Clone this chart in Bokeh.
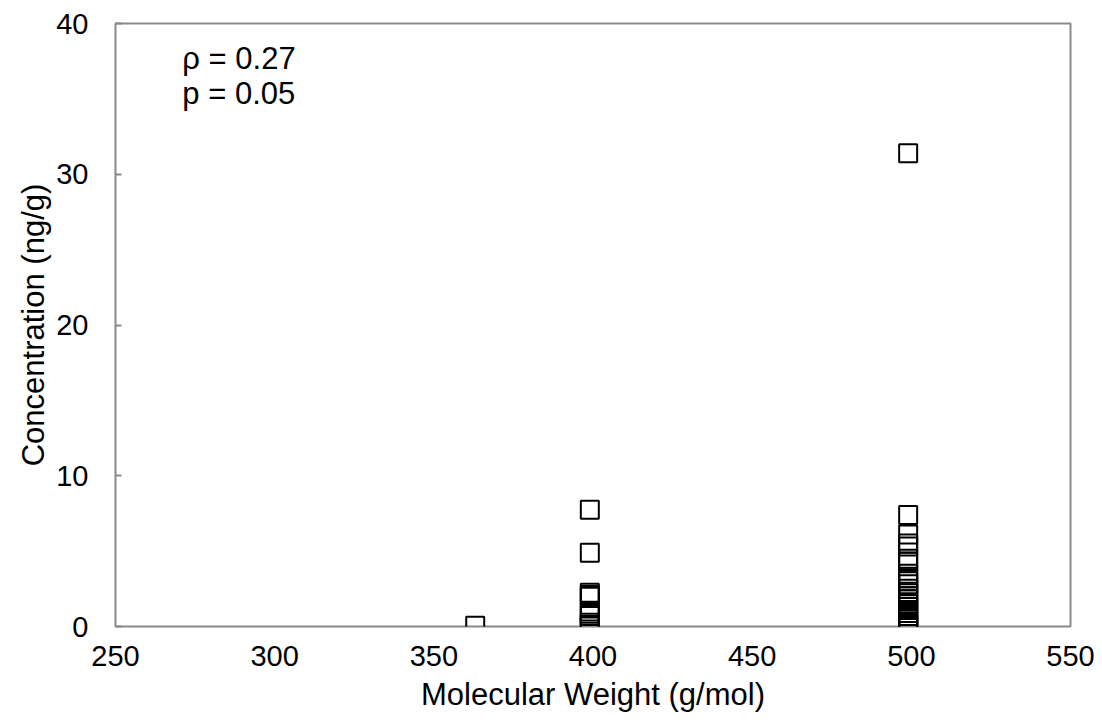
from bokeh.plotting import figure
from bokeh.models import FixedTicker, Label, Range1d
from bokeh.embed import file_html
from bokeh.resources import INLINE

# Data
mw_363 = [363]
conc_363 = [0.05]

mw_399 = [399] * 11
conc_399 = [7.75, 4.9, 2.24, 2.09, 1.97, 1.0, 0.85, 0.7, 0.25, 0.1, 0.0]

mw_499 = [499] * 26
conc_499 = [31.4, 7.4, 6.1, 5.5, 5.3, 4.5, 4.3, 3.5, 3.2, 3.0, 2.8, 2.5, 2.2,
            2.0, 1.8, 1.5, 1.3, 1.1, 0.9, 0.7, 0.5, 0.35, 0.2, 0.1, 0.05, 0.0]

x_ticks = [250, 300, 350, 400, 450, 500, 550]
y_ticks = [0, 10, 20, 30, 40]

annot_lines = ["\u03c1 = 0.27", "p = 0.05"]
annot_x = 271
annot_y = [37.65, 35.35]

FONT = "Liberation Sans"
FS_TICK = "29px"
FS_TITLE = "31px"

p = figure(width=1102, height=727, output_backend="svg", toolbar_location=None,
           x_range=Range1d(250, 550), y_range=Range1d(0, 40),
           min_border_left=115, min_border_right=32, min_border_top=23, min_border_bottom=101)

xs = mw_363 + mw_399 + mw_499
ys = conc_363 + conc_399 + conc_499
p.scatter(xs, ys, marker="square", size=18, fill_color=None, line_color="black", line_width=2)

p.xgrid.visible = False
p.ygrid.visible = False
p.outline_line_color = "#898989"
p.outline_line_width = 2

p.xaxis.ticker = FixedTicker(ticks=x_ticks)
p.yaxis.ticker = FixedTicker(ticks=y_ticks)
for ax in (p.xaxis, p.yaxis):
    ax.axis_line_color = None
    ax.minor_tick_line_color = None
    ax.major_label_text_font = FONT
    ax.major_label_text_font_size = FS_TICK
    ax.major_label_text_color = "black"
    ax.axis_label_text_font = FONT
    ax.axis_label_text_font_size = FS_TITLE
    ax.axis_label_text_font_style = "normal"
    ax.axis_label_text_color = "black"

p.xaxis.major_tick_line_color = None
p.xaxis.major_label_standoff = 13
p.xaxis.axis_label = "Molecular Weight (g/mol)"
p.xaxis.axis_label_standoff = 8

p.yaxis.major_tick_line_color = "#898989"
p.yaxis.major_tick_line_width = 2
p.yaxis.major_tick_in = 6
p.yaxis.major_tick_out = 0
p.yaxis.major_label_standoff = 27
p.yaxis.axis_label = "Concentration (ng/g)"
p.yaxis.axis_label_standoff = 2

for t, yv in zip(annot_lines, annot_y):
    p.add_layout(Label(x=annot_x, y=yv, text=t, text_font=FONT, text_font_size=FS_TITLE,
                       text_color="black", text_baseline="alphabetic"))

open("out.html", "w").write(file_html(p, INLINE))
